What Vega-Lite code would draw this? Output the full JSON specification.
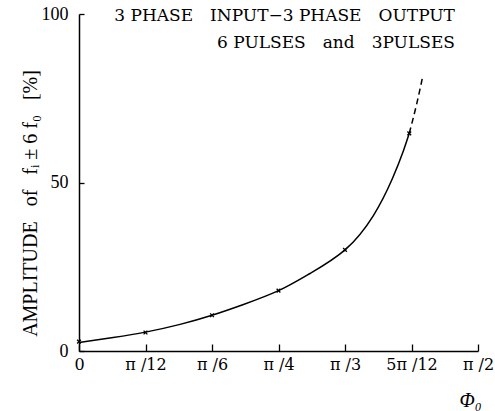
{
  "$schema": "https://vega.github.io/schema/vega-lite/v6.json",
  "width": 399,
  "height": 337,
  "autosize": {"type": "none"},
  "padding": {"left": 79, "top": 14, "right": 17, "bottom": 60},
  "background": "white",
  "config": {
    "view": {"stroke": null},
    "font": "Liberation Serif",
    "axis": {"grid": false, "domainColor": "black", "tickColor": "black", "labelColor": "black", "titleColor": "black", "labelFont": "Liberation Serif", "titleFont": "Liberation Serif", "domainWidth": 1.5, "tickWidth": 1.3}
  },
  "datasets": {
    "pts": [
      {"phi": 0, "amp": 2.5, "kind": "solid"},
      {"phi": 7.7, "amp": 4.0, "kind": "solid"},
      {"phi": 15, "amp": 5.6, "kind": "solid"},
      {"phi": 22.8, "amp": 7.9, "kind": "solid"},
      {"phi": 30, "amp": 10.6, "kind": "solid"},
      {"phi": 37.1, "amp": 13.8, "kind": "solid"},
      {"phi": 45, "amp": 17.9, "kind": "solid"},
      {"phi": 52.1, "amp": 23.0, "kind": "solid"},
      {"phi": 60, "amp": 30.0, "kind": "solid"},
      {"phi": 66.4, "amp": 40.2, "kind": "solid"},
      {"phi": 70.7, "amp": 51.2, "kind": "solid"},
      {"phi": 73.2, "amp": 59.5, "kind": "solid"},
      {"phi": 74.5, "amp": 64.6, "kind": "solid"},
      {"phi": 74.5, "amp": 64.6, "kind": "dashed"},
      {"phi": 76.2, "amp": 73.5, "kind": "dashed"},
      {"phi": 77.6, "amp": 81.9, "kind": "dashed"}
    ],
    "marks": [
      {"phi": 0, "amp": 2.8},
      {"phi": 15, "amp": 5.5},
      {"phi": 30, "amp": 10.6},
      {"phi": 45, "amp": 17.9},
      {"phi": 60, "amp": 30.0},
      {"phi": 74.5, "amp": 64.6}
    ],
    "notes": [
      {"phi": 84.8, "amp": 99.4, "label": "3 PHASE\u2003INPUT−3 PHASE\u2003OUTPUT"},
      {"phi": 84.8, "amp": 91.4, "label": "6 PULSES\u2003and\u20033PULSES"}
    ]
  },
  "layer": [
    {
      "data": {"name": "pts"},
      "transform": [{"filter": "datum.kind === 'solid'"}],
      "mark": {"type": "line", "color": "black", "strokeWidth": 1.5, "interpolate": "natural"},
      "encoding": {
        "x": {"field": "phi", "type": "quantitative", "scale": {"domain": [0, 90], "nice": false},
          "axis": {"values": [0, 15, 30, 45, 60, 75, 90], "labelExpr": "datum.value == 0 ? '0' : datum.value == 15 ? 'π /12' : datum.value == 30 ? 'π /6' : datum.value == 45 ? 'π /4' : datum.value == 60 ? 'π /3' : datum.value == 75 ? '5π /12' : 'π /2'",
            "tickSize": -7, "labelPadding": 12, "labelFont": "DejaVu Serif", "labelFontSize": 16, "labelFlush": false,
            "title": "Φ₀", "titleFontSize": 20, "titleFontStyle": "italic", "titleFontWeight": "normal", "titleX": 391, "titleY": 49, "titleAlign": "center", "titleBaseline": "middle", "titleAnchor": null}},
        "y": {"field": "amp", "type": "quantitative", "scale": {"domain": [0, 100], "nice": false},
          "axis": {"values": [0, 50, 100], "tickSize": -5, "labelPadding": 16, "labelFontSize": 18, "labelFlush": false,
            "title": "AMPLITUDE\u2002 of\u2002 fᵢ ± 6 f₀\u2002 [%]", "titleFontSize": 20, "titleFontWeight": "normal", "titleAngle": -90, "titleBaseline": "middle", "titleX": -49, "titleY": 189, "titleAlign": "center", "titleAnchor": null}}
      }
    },
    {
      "data": {"name": "pts"},
      "transform": [{"filter": "datum.kind === 'dashed'"}],
      "mark": {"type": "line", "color": "black", "strokeWidth": 1.5, "strokeDash": [6, 4], "interpolate": "monotone"},
      "encoding": {
        "x": {"field": "phi", "type": "quantitative"},
        "y": {"field": "amp", "type": "quantitative"}
      }
    },
    {
      "data": {"name": "marks"},
      "mark": {"type": "point", "shape": "M-1,-1L1,1M-1,1L1,-1", "size": 14, "stroke": "black", "strokeWidth": 1.3, "filled": false, "opacity": 1},
      "encoding": {
        "x": {"field": "phi", "type": "quantitative"},
        "y": {"field": "amp", "type": "quantitative"}
      }
    },
    {
      "data": {"name": "notes"},
      "mark": {"type": "text", "align": "right", "baseline": "middle", "font": "DejaVu Serif", "fontSize": 17, "color": "black"},
      "encoding": {
        "x": {"field": "phi", "type": "quantitative"},
        "y": {"field": "amp", "type": "quantitative"},
        "text": {"field": "label"}
      }
    }
  ]
}
